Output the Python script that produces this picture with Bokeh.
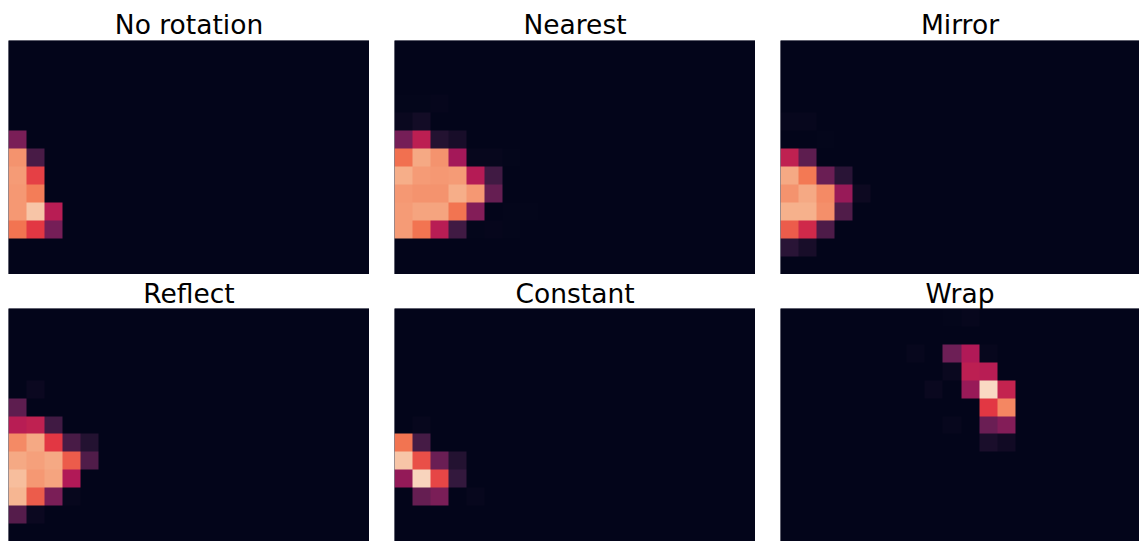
import numpy as np
from bokeh.embed import file_html
from bokeh.resources import INLINE
from bokeh.plotting import figure
from bokeh.layouts import column, row
from bokeh.models import LinearColorMapper

N_ROWS = 13
N_COLS = 20

titles = ["No rotation", "Nearest", "Mirror", "Reflect", "Constant", "Wrap"]

# sparse cells: row index -> (first column, values); everything else is 0
no_rotation = {
    5: (0, [.31]),
    6: (0, [.78, .19]),
    7: (0, [.80, .60]),
    8: (0, [.79, .73]),
    9: (0, [.79, .90, .46]),
    10: (0, [.71, .58, .30]),
}
nearest = {
    3: (0, [.005, .005, .008, .003]),
    4: (0, [.02, .05]),
    5: (0, [.30, .47, .09, .06]),
    6: (0, [.70, .83, .78, .41, .012, .012, .006]),
    7: (0, [.84, .80, .79, .80, .45, .17, .003]),
    8: (0, [.79, .78, .78, .84, .79, .26]),
    9: (0, [.80, .82, .82, .71, .33, 0, .005, .005]),
    10: (0, [.80, .71, .46, .17, .006, .008, .006]),
}
mirror = {
    4: (0, [.015, .015]),
    5: (0, [.003, .003, .005]),
    6: (0, [.48, .24]),
    7: (0, [.83, .72, .27, .11]),
    8: (0, [.78, .83, .76, .38, .03]),
    9: (0, [.85, .85, .77, .21]),
    10: (0, [.66, .52, .20]),
    11: (0, [.11, .06]),
}
reflect = {
    4: (0, [0, .025]),
    5: (0, [.24]),
    6: (0, [.46, .48, .17]),
    7: (0, [.76, .83, .58, .19, .09]),
    8: (0, [.83, .81, .83, .66, .21]),
    9: (0, [.88, .79, .82, .44, 0]),
    10: (0, [.86, .66, .31, .012]),
    11: (0, [.22, .025, .003]),
}
constant = {
    6: (0, [0, .015]),
    7: (0, [.71, .18]),
    8: (0, [.90, .63, .27, .09]),
    9: (0, [.37, .94, .61, .14]),
    10: (0, [0, .26, .31, 0, .012]),
}
wrap = {
    0: (9, [.006, .012]),
    1: (8, [.003]),
    2: (7, [.012, 0, .28, .44, .015]),
    3: (9, [.02, .47, .46]),
    4: (8, [.02, .003, .38, .95, .49]),
    5: (9, [.003, .003, .58, .75]),
    6: (9, [.012, 0, .27, .33]),
    7: (11, [.07, .04]),
}
panels = [no_rotation, nearest, mirror, reflect, constant, wrap]

# rocket colormap anchors
anchors = ["#03051a", "#35193e", "#701f57", "#ad1759", "#e13342", "#f37651", "#f6b48f", "#faebdd"]
rgb = np.array([[int(c[i:i + 2], 16) for i in (1, 3, 5)] for c in anchors], float)
t = np.linspace(0, 1, len(anchors))
tt = np.linspace(0, 1, 256)
palette = ["#%02x%02x%02x" % tuple(int(round(np.interp(v, t, rgb[:, k]))) for k in range(3)) for v in tt]
mapper = LinearColorMapper(palette=palette, low=0, high=1)


def make(title, cells, width, frame_h, total_h, standoff):
    grid = np.zeros((N_ROWS, N_COLS))
    for r, (start, vals) in cells.items():
        grid[r, start:start + len(vals)] = vals
    p = figure(width=width, height=total_h, frame_width=width, frame_height=frame_h,
               x_range=(0, N_COLS * width / 361), y_range=(0, N_ROWS),
               x_axis_type=None, y_axis_type=None, toolbar_location=None,
               output_backend="svg", min_border=0, min_border_top=total_h - frame_h,
               title=title, outline_line_color=None, background_fill_color=palette[0])
    p.grid.visible = False
    p.title.align = "center"
    p.title.text_font = "DejaVu Sans"
    p.title.text_font_size = "26.5px"
    p.title.text_font_style = "normal"
    p.title.text_color = "#000000"
    p.title.standoff = standoff
    p.image(image=[grid[::-1]], x=0, y=0, dw=N_COLS, dh=N_ROWS, color_mapper=mapper)
    return p


widths = [361, 361, 359]
top = [make(titles[i], panels[i], widths[i], 234, 268, 1) for i in range(3)]
bottom = [make(titles[i + 3], panels[i + 3], widths[i], 233, 266, 0) for i in range(3)]
layout = column(row(*top, spacing=25), row(*bottom, spacing=25), spacing=1, margin=(6, 0, 0, 8))

open("out.html", "w").write(file_html(layout, INLINE))
